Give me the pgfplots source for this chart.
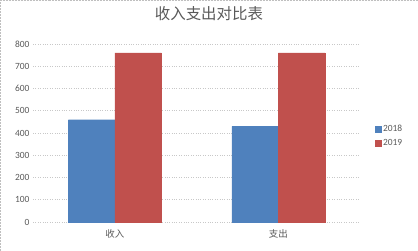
\documentclass[border=0pt]{standalone}
\usepackage{pgfplots}
\pgfplotsset{compat=1.18}
\usepackage{fontspec}
\setmainfont{Carlito}
\newfontfamily\cjk{Noto Sans CJK SC}
\definecolor{cblue}{HTML}{4F81BD}
\definecolor{cred}{HTML}{C0504D}
\definecolor{txtgray}{HTML}{595959}
\definecolor{gridgray}{HTML}{C8C8C8}
\begin{document}
\begin{tikzpicture}[x=1bp,y=1bp]
\draw[gray!50, densely dotted, line width=0.5bp] (0.25,0.25) rectangle (417.75,250.75);
\begin{axis}[
  at={(33bp,29bp)}, anchor=south west,
  scale only axis, width=327bp, height=178bp,
  xmin=-0.5, xmax=1.5, ymin=0, ymax=800,
  ytick={0,100,...,800},
  xtick={0,1}, xticklabels={{\cjk 收入},{\cjk 支出}},
  xticklabel style={yshift=-4bp},
  axis line style={draw=none},
  major tick length=0pt,
  ymajorgrids, grid style={gridgray, dotted, line width=0.7bp},
  ybar=0pt, bar width=46.5bp,
  tick label style={font=\fontsize{9.5}{11}\selectfont, text=txtgray},
  /pgf/number format/assume math mode=true,
  title={\cjk 收入支出对比表},
  title style={at={(0.538,1.135)}, anchor=center, font=\fontsize{15.5}{18}\selectfont, text=txtgray},
  legend style={at={(1.037,0.483)}, anchor=west, draw=none, fill=none,
    font=\fontsize{9.5}{11}\selectfont, text=txtgray, row sep=2pt},
  legend image code/.code={\fill[#1] (0bp,-2.75bp) rectangle (5.5bp,2.75bp);},
  clip=false,
]
\addplot[fill=cblue, draw=cblue, line width=0.3bp] coordinates {(0,460) (1,430)};
\addplot[fill=cred, draw=cred, line width=0.3bp] coordinates {(0,760) (1,760)};
\legend{2018,2019}
\end{axis}
\end{tikzpicture}
\end{document}
